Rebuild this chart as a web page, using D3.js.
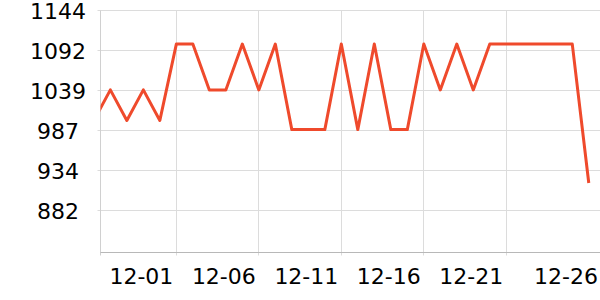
<!DOCTYPE html>
<html>
<head>
<meta charset="utf-8">
<script src="https://cdn.jsdelivr.net/npm/d3@7"></script>
<style>
  html, body { margin: 0; padding: 0; background: #fff; }
  svg { display: block; font-family: "DejaVu Sans", sans-serif; }
</style>
</head>
<body>
<div id="chartContainer"></div>
<script>
// daily values
const days = ["11-26", "11-27", "11-28", "11-29", "11-30",
  "12-01", "12-02", "12-03", "12-04", "12-05", "12-06", "12-07", "12-08", "12-09", "12-10",
  "12-11", "12-12", "12-13", "12-14", "12-15", "12-16", "12-17", "12-18", "12-19", "12-20",
  "12-21", "12-22", "12-23", "12-24", "12-25", "12-26"];
const values = [1000, 1040, 1000, 1040, 1000,
  1100, 1100, 1040, 1040, 1100, 1040, 1100, 988, 988, 988,
  1100, 988, 1100, 988, 988, 1100, 1040, 1100, 1040, 1100,
  1100, 1100, 1100, 1100, 1100, 918];
const xTicks = ["12-01", "12-06", "12-11", "12-16", "12-21", "12-26"];
const yTicks = [882, 934, 987, 1039, 1092, 1144];

(function() {
  const fullWidth = 600, fullHeight = 300;
  const margin = {top: 10.5, right: 0, bottom: 47.5, left: 100.5};
  const width = fullWidth - margin.left - margin.right;
  const height = fullHeight - margin.top - margin.bottom;

  const parse = d3.utcParse("%Y-%m-%d %H:%M");
  const day = s => parse("2023-" + s + " 00:00");

  const data = days.map((d, i) => ({date: day(d), value: values[i]}));

  const x = d3.scaleUtc()
    .domain([parse("2023-11-26 09:40"), parse("2023-12-26 16:20")])
    .range([0, width]);
  const y = d3.scaleLinear()
    .domain([827, 1144])
    .range([height, 0]);

  const svg = d3.create("svg")
    .attr("width", fullWidth)
    .attr("height", fullHeight)
    .attr("viewBox", [0, 0, fullWidth, fullHeight]);

  svg.append("defs").append("clipPath").attr("id", "plotClip")
    .append("rect").attr("x", 0).attr("y", -10).attr("width", width).attr("height", height + 10);

  const g = svg.append("g").attr("transform", `translate(${margin.left}, ${margin.top})`);

  // horizontal grid + y ticks
  g.append("g").selectAll("line")
    .data(yTicks)
    .join("line")
      .attr("x1", -3).attr("x2", width)
      .attr("y1", d => Math.round(y(d)))
      .attr("y2", d => Math.round(y(d)))
      .attr("stroke", "#dcdcdc");

  // vertical grid (last tick has no grid line in the reference)
  g.append("g").selectAll("line")
    .data(xTicks.slice(0, -1))
    .join("line")
      .attr("x1", d => Math.round(x(day(d))))
      .attr("x2", d => Math.round(x(day(d))))
      .attr("y1", 0).attr("y2", height + 3)
      .attr("stroke", "#dcdcdc");

  // y axis line
  g.append("line")
    .attr("x1", 0).attr("x2", 0).attr("y1", 0).attr("y2", height + 3)
    .attr("stroke", "#d0d0d0");

  // x axis line
  g.append("line")
    .attr("x1", 0).attr("x2", width).attr("y1", height).attr("y2", height)
    .attr("stroke", "#b8b8b8");

  // y labels (centred)
  g.append("g").selectAll("text")
    .data(yTicks)
    .join("text")
      .attr("x", 58 - margin.left)
      .attr("y", d => y(d))
      .attr("dy", "0.38em")
      .attr("text-anchor", "middle")
      .attr("font-size", 22)
      .attr("fill", "#000")
      .text(d => d);

  // x labels (end just before the tick, last one kept inside the frame)
  g.append("g").selectAll("text")
    .data(xTicks)
    .join("text")
      .attr("x", (d, i) => i === xTicks.length - 1 ? width - 2 : x(day(d)) - 3)
      .attr("y", height + 31)
      .attr("text-anchor", "end")
      .attr("font-size", 22)
      .attr("fill", "#000")
      .text(d => d);

  const line = d3.line()
    .x(d => x(d.date))
    .y(d => y(d.value));

  g.append("path")
    .datum(data)
    .attr("clip-path", "url(#plotClip)")
    .attr("fill", "none")
    .attr("stroke", "#ef4a2c")
    .attr("stroke-width", 3)
    .attr("stroke-linejoin", "round")
    .attr("d", line);

  document.getElementById("chartContainer").append(svg.node());
})();
</script>
</body>
</html>
